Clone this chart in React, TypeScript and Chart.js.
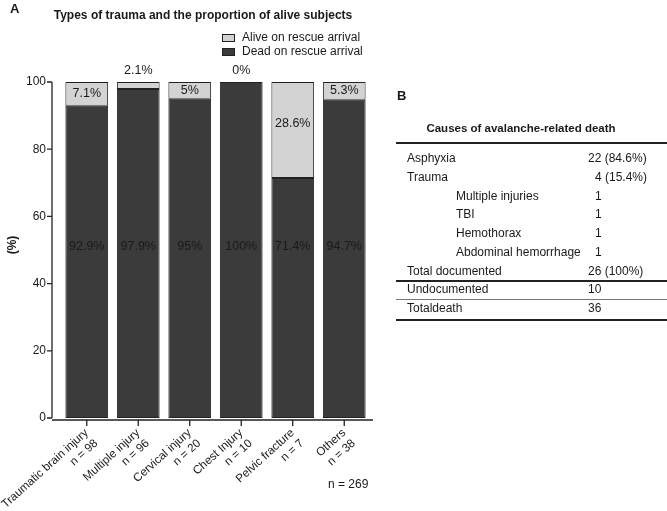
import React, { useEffect, useRef } from "react";
import { Chart, registerables } from "chart.js";
Chart.register(...registerables);

const FONT = "'Liberation Sans', Arial, Helvetica, sans-serif";

const categories = [
  ["Traumatic brain injury", "n = 98"],
  ["Multiple injury", "n = 96"],
  ["Cervical injury", "n = 20"],
  ["Chest Injury", "n = 10"],
  ["Pelvic fracture", "n = 7"],
  ["Others", "n = 38"],
];
const deadValues = [92.9, 97.9, 95, 100, 71.4, 94.7];
const aliveValues = [7.1, 2.1, 5, 0, 28.6, 5.3];
const deadLabels = ["92.9%", "97.9%", "95%", "100%", "71.4%", "94.7%"];
const aliveLabels = ["7.1%", "2.1%", "5%", "0%", "28.6%", "5.3%"];
const yTicks = [0, 20, 40, 60, 80, 100];
const seriesNames = ["Alive on rescue arrival", "Dead on rescue arrival"];
const totalN = "n = 269";

const tableTitle = "Causes of avalanche-related death";
const tableRows = [
  "Asphyxia",
  "Trauma",
  "Multiple injuries",
  "TBI",
  "Hemothorax",
  "Abdominal hemorrhage",
  "Total documented",
  "Undocumented",
  "Totaldeath",
];
const tableCounts = ["22 (84.6%)", "4 (15.4%)", "1", "1", "1", "1", "26 (100%)", "10", "36"];
const tableSub = [false, false, true, true, true, true, false, false, false];

const DARK = "#3b3b3b";
const LIGHT = "#d3d3d3";
const INK = "#1a1a1a";

const decor = {
  id: "decor",
  afterDatasetsDraw(chart: any) {
    const { ctx, chartArea: ca } = chart;
    const x = chart.scales.x;
    const y = chart.scales.y;
    ctx.save();
    ctx.strokeStyle = "#222";
    ctx.lineWidth = 1.3;
    const ax = ca.left - 9;
    ctx.beginPath();
    ctx.moveTo(ax, y.getPixelForValue(100));
    ctx.lineTo(ax, y.getPixelForValue(0));
    yTicks.forEach((v) => {
      const py = y.getPixelForValue(v);
      ctx.moveTo(ax - 5, py);
      ctx.lineTo(ax, py);
    });
    const by = ca.bottom + 2;
    ctx.moveTo(ax, by);
    ctx.lineTo(ca.right + 3, by);
    categories.forEach((_, i) => {
      const px = x.getPixelForValue(i);
      ctx.moveTo(px, by);
      ctx.lineTo(px, by + 6);
    });
    ctx.stroke();

    ctx.fillStyle = INK;
    ctx.textAlign = "center";
    ctx.textBaseline = "middle";
    ctx.font = `12.5px ${FONT}`;
    deadLabels.forEach((t, i) => {
      ctx.fillText(t, x.getPixelForValue(i), y.getPixelForValue(51));
    });
    aliveLabels.forEach((t, i) => {
      const a = aliveValues[i];
      const py = a >= 4 ? y.getPixelForValue(100 - Math.min(a / 2, 12.5)) : y.getPixelForValue(100) - 11;
      ctx.fillText(t, x.getPixelForValue(i), py);
    });

    // panel letter and title
    ctx.font = `bold 13px ${FONT}`;
    ctx.textAlign = "left";
    ctx.fillText("A", 10, 9);
    ctx.font = `bold 12px ${FONT}`;
    ctx.textAlign = "center";
    ctx.fillText("Types of trauma and the proportion of alive subjects", 203, 16);

    // legend
    ctx.font = `12px ${FONT}`;
    ctx.textAlign = "left";
    const fills = [LIGHT, DARK];
    seriesNames.forEach((n, i) => {
      const cy = 38 + i * 14;
      ctx.fillStyle = fills[i];
      ctx.fillRect(222, cy - 3.5, 13, 7);
      ctx.strokeStyle = "#222";
      ctx.lineWidth = 1;
      ctx.strokeRect(222.5, cy - 3.5, 12, 7);
      ctx.fillStyle = INK;
      ctx.fillText(n, 242, cy);
    });

    // y axis title
    ctx.save();
    ctx.translate(13, 245);
    ctx.rotate(-Math.PI / 2);
    ctx.font = `bold 12px ${FONT}`;
    ctx.textAlign = "center";
    ctx.fillText("(%)", 0, 0);
    ctx.restore();

    ctx.font = `12px ${FONT}`;
    ctx.textAlign = "left";
    ctx.fillText(totalN, 328, 485);
    ctx.restore();
  },
};

export default function App() {
  const ref = useRef<HTMLCanvasElement>(null);
  useEffect(() => {
    document.body.style.margin = "0";
    const chart = new Chart(ref.current as HTMLCanvasElement, {
      type: "bar",
      data: {
        labels: categories as any,
        datasets: [
          {
            label: seriesNames[1],
            data: deadValues,
            backgroundColor: DARK,
            borderColor: "#222",
            borderWidth: 1,
            borderSkipped: false,
            barPercentage: 0.83,
            categoryPercentage: 1,
          },
          {
            label: seriesNames[0],
            data: aliveValues,
            backgroundColor: LIGHT,
            borderColor: "#222",
            borderWidth: 1,
            borderSkipped: false,
            barPercentage: 0.83,
            categoryPercentage: 1,
          },
        ],
      },
      options: {
        responsive: false,
        animation: false,
        layout: { padding: { left: 11, right: 297, top: 82, bottom: 0 } },
        plugins: { legend: { display: false }, tooltip: { enabled: false }, title: { display: false } },
        scales: {
          x: {
            stacked: true,
            grid: { display: false, drawTicks: false },
            border: { display: false },
            ticks: {
              autoSkip: false,
              maxRotation: 42,
              minRotation: 42,
              padding: 8,
              color: INK,
              font: { family: FONT, size: 11.7 },
            },
            afterFit: (s: any) => {
              s.height = 93;
              s.paddingLeft = 0;
              s.paddingRight = 0;
            },
          },
          y: {
            stacked: true,
            min: 0,
            max: 100,
            grid: { display: false, drawTicks: false },
            border: { display: false },
            ticks: {
              stepSize: 20,
              padding: 15,
              color: INK,
              font: { family: FONT, size: 12 },
            },
            afterFit: (s: any) => {
              s.width = 50;
              s.paddingTop = 0;
              s.paddingBottom = 0;
            },
          },
        },
      },
      plugins: [decor],
    });
    return () => chart.destroy();
  }, []);

  const rowY = (i: number) => 158 + i * 18.75;
  const txt: React.CSSProperties = {
    position: "absolute",
    fontFamily: FONT,
    fontSize: 12,
    lineHeight: "14px",
    color: INK,
    whiteSpace: "nowrap",
  };
  const rule = (top: number, h: number, color: string): React.CSSProperties => ({
    position: "absolute",
    left: 396,
    width: 271,
    top,
    height: h,
    background: color,
  });

  return (
    <div style={{ position: "relative", width: 667, height: 511, background: "#fff", overflow: "hidden" }}>
      <canvas ref={ref} width={667} height={511} style={{ position: "absolute", left: 0, top: 0 }} />
      <div style={{ ...txt, left: 397, top: 89, fontWeight: "bold", fontSize: 13 }}>B</div>
      <div style={{ ...txt, left: 396, width: 250, top: 121, textAlign: "center", fontWeight: "bold", fontSize: 11.5 }}>
        {tableTitle}
      </div>
      <div style={rule(142, 2, "#222")} />
      {tableRows.map((r, i) => (
        <div key={"n" + i} style={{ ...txt, left: tableSub[i] ? 456 : 407, top: rowY(i) - 7 }}>
          {r}
        </div>
      ))}
      {tableCounts.map((c, i) => (
        <div key={"c" + i} style={{ ...txt, left: /^\d\D/.test(c) || c.length === 1 ? 595 : 588, top: rowY(i) - 7 }}>
          {c}
        </div>
      ))}
      <div style={rule(280, 2, "#222")} />
      <div style={rule(299, 1, "#777")} />
      <div style={rule(319, 2, "#222")} />
    </div>
  );
}
